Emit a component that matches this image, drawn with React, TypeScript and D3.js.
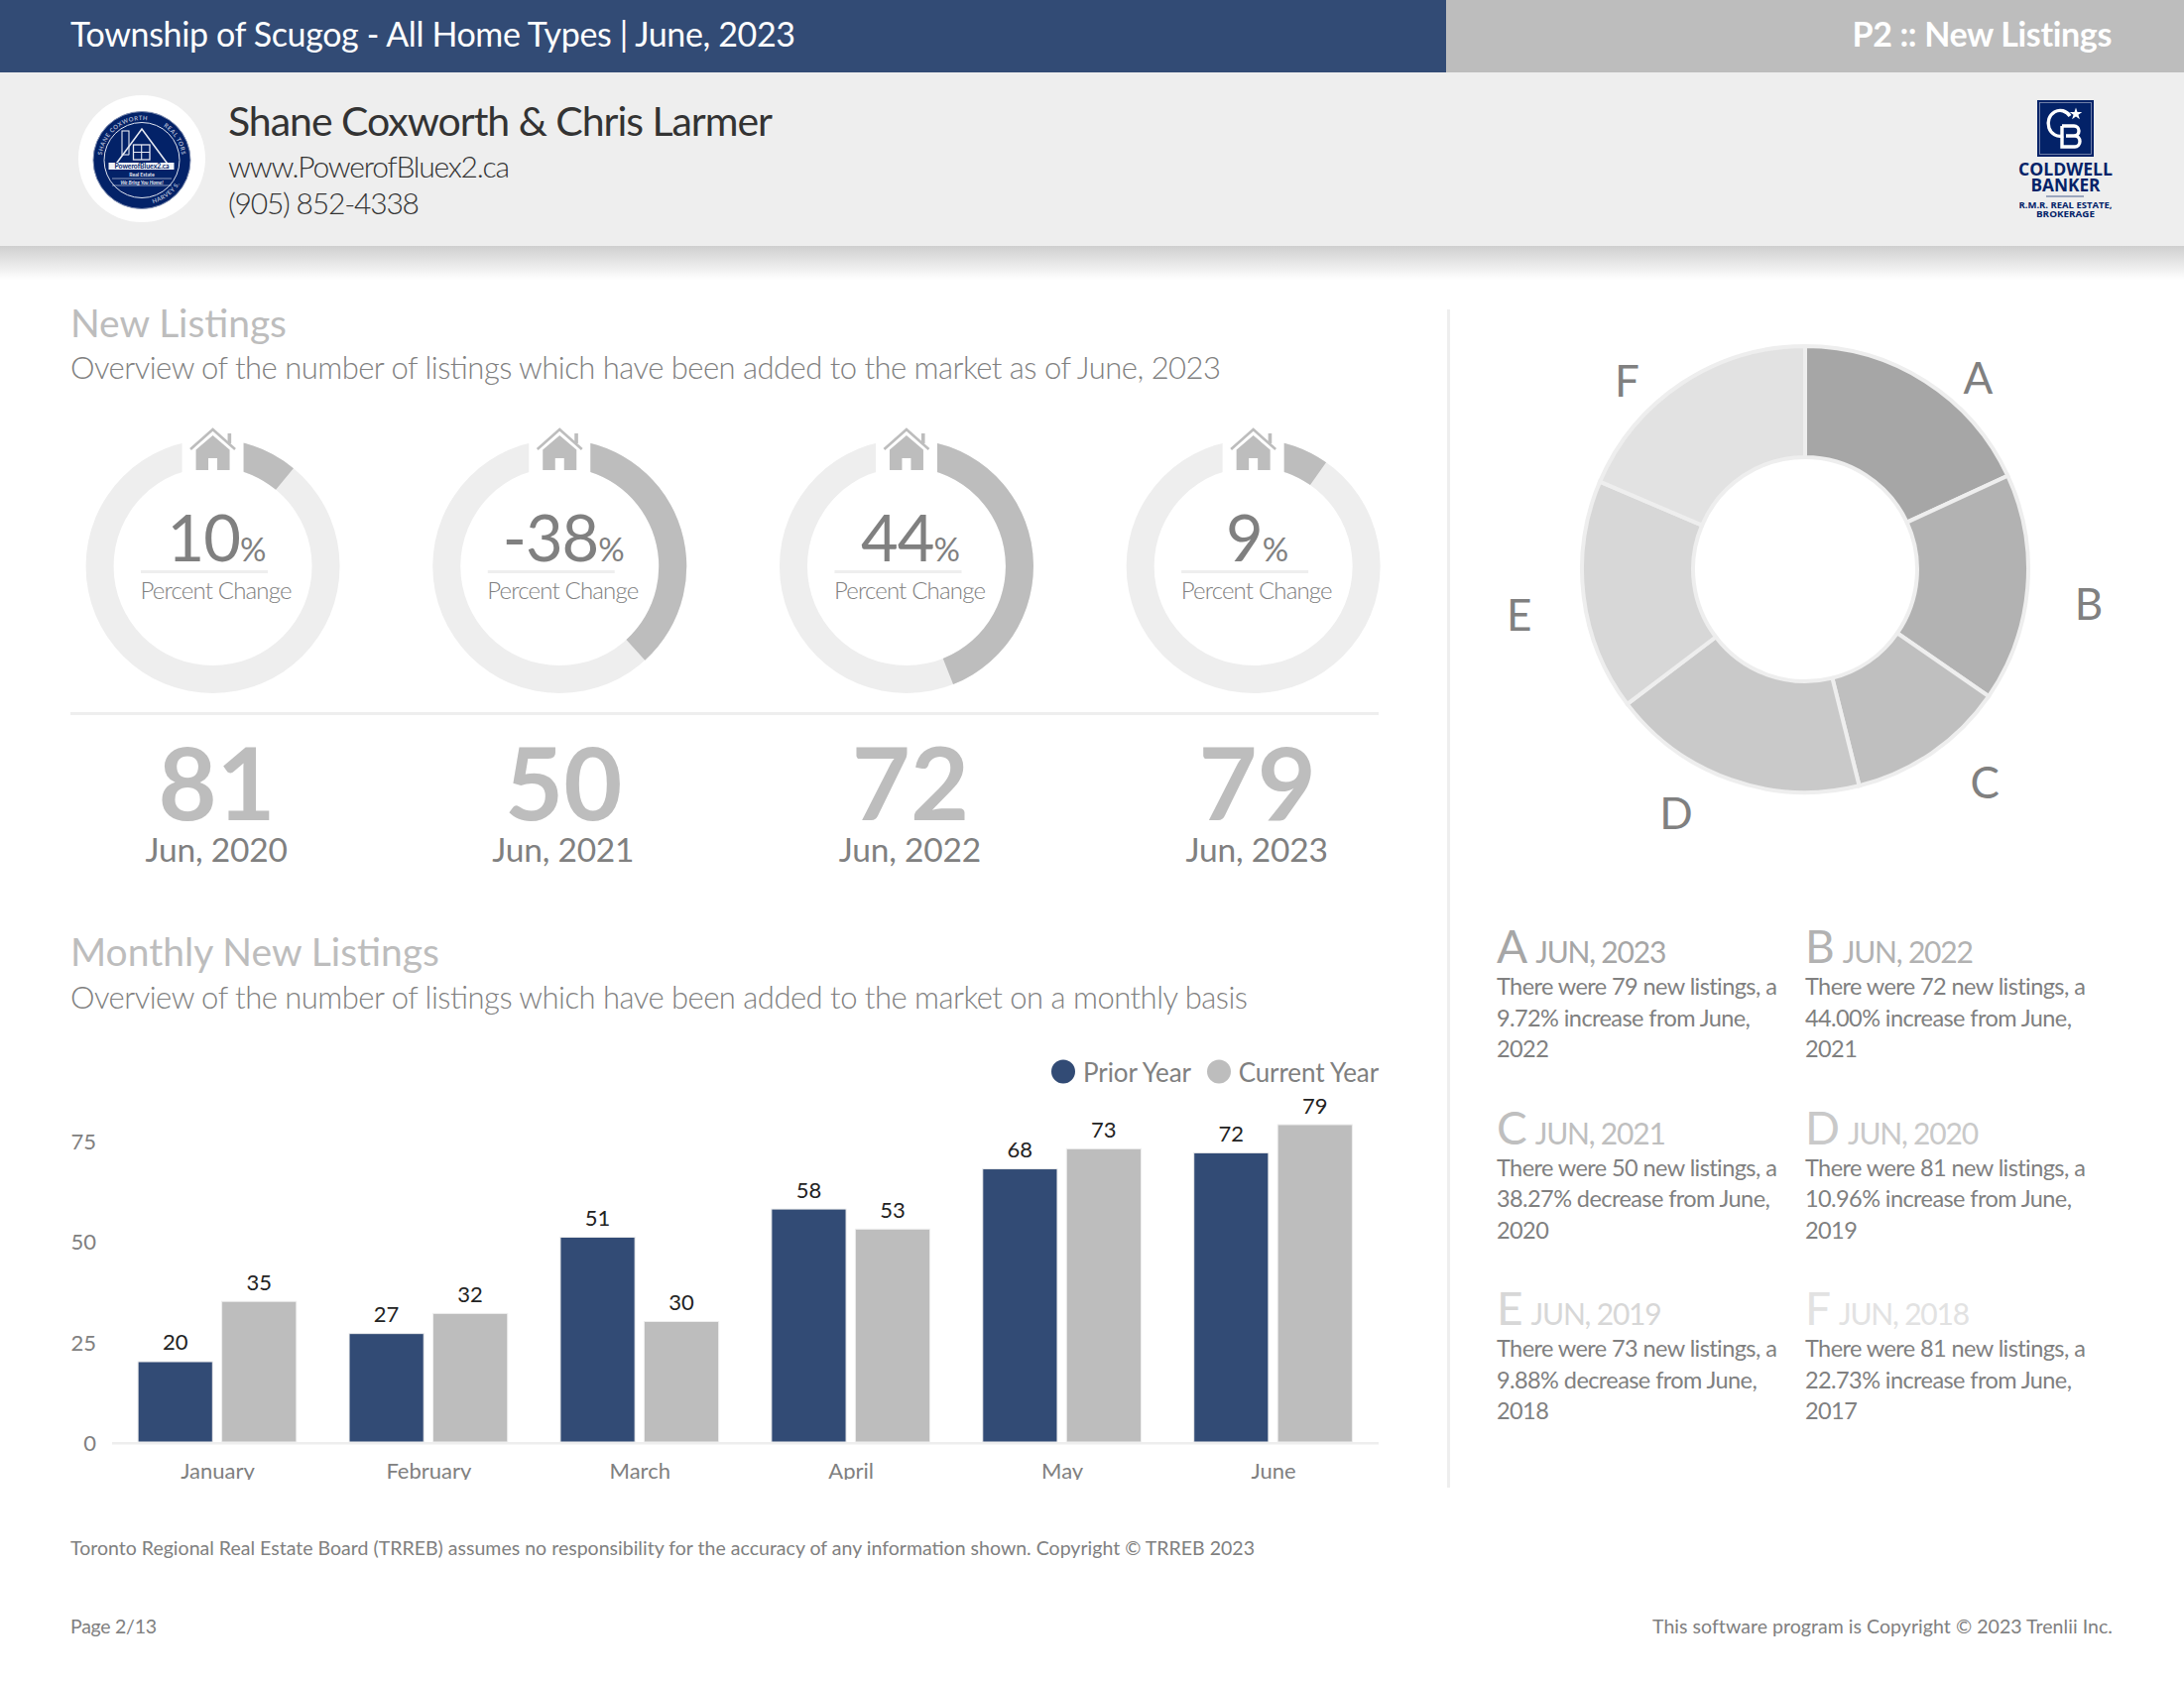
import React from "react";
import * as d3 from "d3";

const headerTitle = "Township of Scugog - All Home Types | June, 2023";
const headerPage = "P2 :: New Listings";
const agentName = "Shane Coxworth & Chris Larmer";
const agentSite = "www.PowerofBluex2.ca";
const agentPhone = "(905) 852-4338";

const gaugeLabels = ["10", "-38", "44", "9"];
const gaugeChange = [10.96, 38.27, 44.0, 9.72];
const gaugeTotals = [81, 50, 72, 79];
const gaugeDates = ["Jun, 2020", "Jun, 2021", "Jun, 2022", "Jun, 2023"];

const months = ["January", "February", "March", "April", "May", "June"];
const priorYear = [20, 27, 51, 58, 68, 72];
const currentYear = [35, 32, 30, 53, 73, 79];
const yTicks = [0, 25, 50, 75];

const pieLetters = ["A", "B", "C", "D", "E", "F"];
const pieValues = [79, 72, 50, 81, 73, 81];
const pieColors = ["#a6a6a6", "#b2b2b2", "#bfbfbf", "#c9c9c9", "#d7d7d7", "#e2e2e2"];
const pieLabelTurn = [9.5, 2, -5.5, 8.5, -2, -10];
const pieLabelRadius = [260, 288, 281, 278, 292, 261];
const pieDates = ["JUN, 2023", "JUN, 2022", "JUN, 2021", "JUN, 2020", "JUN, 2019", "JUN, 2018"];
const pieNotes = [
  ["There were 79 new listings, a", "9.72% increase from June,", "2022"],
  ["There were 72 new listings, a", "44.00% increase from June,", "2021"],
  ["There were 50 new listings, a", "38.27% decrease from June,", "2020"],
  ["There were 81 new listings, a", "10.96% increase from June,", "2019"],
  ["There were 73 new listings, a", "9.88% decrease from June,", "2018"],
  ["There were 81 new listings, a", "22.73% increase from June,", "2017"],
];

const NAVY = "#324b75";
const LOGO = "#032268";
const GREY = "#bdbdbd";
const TXT = "#808080";
const PALE = "#eeeeee";
const FONT = "Lato, sans-serif";

function Logo() {
  const cx = 143, cy = 161.5;
  return (
    <g>
      <circle cx={cx} cy={160} r={64} fill="#fff" />
      <circle cx={cx} cy={cy} r={49} fill={LOGO} stroke="#7f8db0" strokeWidth={1} />
      <circle cx={cx} cy={cy} r={38} fill="none" stroke="#dfe4f0" strokeWidth={1} />
      <defs>
        <path id="lgTop" d={`M ${cx - 40.5} ${cy} A 40.5 40.5 0 0 1 ${cx + 40.5} ${cy}`} />
        <path id="lgBot" d={`M ${cx - 45} ${cy} A 45 45 0 0 0 ${cx + 45} ${cy}`} />
      </defs>
      <g fontFamily={FONT} fill="#aeb8d2" fontWeight={700} letterSpacing={0.5}>
        <text fontSize={6}><textPath href="#lgTop" startOffset="4%">SHANE COXWORTH</textPath></text>
        <text fontSize={6}><textPath href="#lgTop" startOffset="68%">REAL TORS</textPath></text>
        <text fontSize={6}><textPath href="#lgBot" startOffset="58%">HARVEY S.</textPath></text>
      </g>
      <path d={`M ${cx - 28} 168 L ${cx} 130 L ${cx + 28} 168`} fill="none" stroke="#e6e9f2" strokeWidth={1.6} />
      <rect x={cx - 20} y={132} width={7} height={24} fill="none" stroke="#e6e9f2" strokeWidth={1.1} />
      <path d={`M ${cx - 13.5} 158 L ${cx} 136 L ${cx + 20} 166 L ${cx - 20} 166 Z`} fill={LOGO} />
      <rect x={134.5} y={146} width={16.5} height={15} fill="none" stroke="#e6e9f2" strokeWidth={1.3} />
      <path d={`M 142.7 146 V 161 M 134.5 153.5 H 151`} stroke="#e6e9f2" strokeWidth={1.1} />
      <rect x={109.5} y={164} width={66} height={7} fill="#f0f2f7" />
      <text x={cx} y={170} textAnchor="middle" fontFamily={FONT} fontSize={6.8} fontWeight={700} fill={LOGO}>PowerofBluex2.ca</text>
      <text x={cx} y={177.5} textAnchor="middle" fontFamily={FONT} fontSize={5.2} fontWeight={700} fill="#e6e9f2">Real Estate</text>
      <path d={`M 113 180 H 173 M 113 187 H 173`} stroke="#e6e9f2" strokeWidth={0.6} />
      <text x={cx} y={185.5} textAnchor="middle" fontFamily={FONT} fontSize={5} fontStyle="italic" fontWeight={700} fill="#e6e9f2">We Bring You Home!</text>
    </g>
  );
}

function CbLogo() {
  const star = d3.range(10).map((i) => {
    const r = i % 2 ? 2.6 : 6.6;
    const a = (i * Math.PI) / 5;
    return `${2093 + r * Math.sin(a)},${115 - r * Math.cos(a)}`;
  }).join(" ");
  return (
    <g>
      <rect x={2054} y={101} width={57} height={57} fill={LOGO} />
      <rect x={2056.5} y={103.5} width={52} height={52} fill="none" stroke="#8a97b8" strokeWidth={0.8} />
      <path d="M 2087 117 A 12 13 0 1 0 2080 137" fill="none" stroke="#fff" strokeWidth={3.4} />
      <path d="M 2079 127 H 2091 A 5 5 0 0 1 2091 137 H 2083 M 2083 137 H 2092 A 5 5.5 0 0 1 2092 148 H 2079 V 127" fill="none" stroke="#fff" strokeWidth={3.4} />
      <polygon points={star} fill="#fff" />
      <g fontFamily="'Open Sans', sans-serif" fontWeight={700} fill={LOGO} textAnchor="middle">
        <text x={2082.5} y={177} fontSize={17} textLength={95} lengthAdjust="spacingAndGlyphs">COLDWELL</text>
        <text x={2082.5} y={193} fontSize={17} textLength={70} lengthAdjust="spacingAndGlyphs">BANKER</text>
        <text x={2082.5} y={210} fontSize={9.5} textLength={94} lengthAdjust="spacingAndGlyphs">R.M.R. REAL ESTATE,</text>
        <text x={2082.5} y={218.5} fontSize={9.5} textLength={59} lengthAdjust="spacingAndGlyphs">BROKERAGE</text>
      </g>
      <rect x={2063} y={197.5} width={38} height={1} fill={LOGO} opacity={0.7} />
    </g>
  );
}

function Gauges() {
  const x = d3.scaleBand<number>().domain(d3.range(4)).range([39.7, 1438.5]);
  const cy = 571;
  const ring = d3.arc<any>().innerRadius(100).outerRadius(128);
  return (
    <g>
      {gaugeLabels.map((lab, i) => {
        const cx = (x(i) as number) + x.bandwidth() / 2;
        const tx = cx + 3.5;
        return (
          <g key={i}>
            <path transform={`translate(${cx},${cy})`} d={ring({ startAngle: 0, endAngle: 2 * Math.PI }) as string} fill={PALE} />
            <path transform={`translate(${cx},${cy})`} d={ring({ startAngle: 0, endAngle: (gaugeChange[i] / 100) * 2 * Math.PI }) as string} fill={GREY} />
            <rect x={cx - 31} y={cy - 135} width={62} height={44} fill="#fff" />
            <g transform={`translate(${cx},${cy})`}>
              <path d="M -22.5 -118 L 0 -138 L 22.5 -118" fill="none" stroke={GREY} strokeWidth={2.6} />
              <rect x={15} y={-134} width={3.6} height={10} fill={GREY} />
              <path d="M 0 -132 L 17 -117.5 V -97 H 4.5 V -109 H -4.5 V -97 H -17 V -117.5 Z" fill={GREY} />
            </g>
            <text x={tx} y={566} textAnchor="middle" fontFamily={FONT} fill={TXT} letterSpacing={-1}>
              <tspan fontSize={65} fontWeight={400}>{lab}</tspan>
              <tspan fontSize={33} fontWeight={400}>%</tspan>
            </text>
            <rect x={tx - 76} y={575} width={128} height={3} fill={PALE} />
            <text x={tx} y={604} textAnchor="middle" fontFamily={FONT} fontSize={24} fontWeight={300} fill={TXT} textLength={153}>Percent Change</text>
            <text x={tx + 0.5} y={827} textAnchor="middle" fontFamily={FONT} fontSize={102} fontWeight={700} fill={GREY}>{gaugeTotals[i]}</text>
            <text x={tx} y={869} textAnchor="middle" fontFamily={FONT} fontSize={33.5} fontWeight={400} fill={TXT} letterSpacing={-0.2}>{gaugeDates[i]}</text>
          </g>
        );
      })}
      <rect x={71} y={718} width={1319} height={3} fill={PALE} />
    </g>
  );
}

function Bars() {
  const x0 = d3.scaleBand<string>().domain(months).range([112.5, 1390]).paddingInner(0.25).paddingOuter(0.125);
  const x1 = d3.scaleBand<string>().domain(["prior", "current"]).range([0, x0.bandwidth()]).paddingInner(0.11);
  const y = d3.scaleLinear().domain([0, 79]).range([1454, 1134]);
  const series: [string, number[], string][] = [["prior", priorYear, NAVY], ["current", currentYear, GREY]];
  return (
    <g>
      <defs>
        <clipPath id="axisClip"><rect x={0} y={1465} width={1440} height={27} /></clipPath>
      </defs>
      {yTicks.map((t) => (
        <text key={t} x={97} y={y(t) + 9} textAnchor="end" fontFamily={FONT} fontSize={22} fill={TXT}>{t}</text>
      ))}
      <rect x={113} y={1454} width={1277} height={2.5} fill={PALE} />
      {months.map((m, i) => (
        <g key={m}>
          {series.map(([k, vals, col]) => {
            const bx = (x0(m) as number) + (x1(k) as number);
            return (
              <g key={k}>
                <rect x={bx} y={y(vals[i])} width={x1.bandwidth()} height={y(0) - y(vals[i])} fill={col} stroke={PALE} strokeWidth={1} />
                <text x={bx + x1.bandwidth() / 2} y={y(vals[i]) - 11.5} textAnchor="middle" fontFamily={FONT} fontSize={22} fill="#222">{vals[i]}</text>
              </g>
            );
          })}
          <text x={(x0(m) as number) + x0.bandwidth() / 2 + 0.5} y={1491} textAnchor="middle" fontFamily={FONT} fontSize={22} fill={TXT} clipPath="url(#axisClip)">{m}</text>
        </g>
      ))}
      <circle cx={1072} cy={1080.5} r={12} fill={NAVY} />
      <text x={1092} y={1090.5} fontFamily={FONT} fontSize={26} fill={TXT} letterSpacing={-0.1}>Prior Year</text>
      <circle cx={1229} cy={1080.5} r={12} fill={GREY} />
      <text x={1390} y={1090.5} textAnchor="end" fontFamily={FONT} fontSize={26} fill={TXT} letterSpacing={-0.1}>Current Year</text>
    </g>
  );
}

function Donut() {
  const cx = 1820, cy = 574;
  const slices = d3.pie<number>().sort(null)(pieValues);
  const arc = d3.arc<any>().innerRadius(113).outerRadius(225);
  return (
    <g>
      {slices.map((s, i) => (
        <path key={i} transform={`translate(${cx},${cy})`} d={arc(s) as string} fill={pieColors[i]} stroke={PALE} strokeWidth={4} />
      ))}
      {slices.map((s, i) => {
        const a = (s.startAngle + s.endAngle) / 2 + (pieLabelTurn[i] * Math.PI) / 180;
        return (
          <text key={i} x={cx + pieLabelRadius[i] * Math.sin(a)} y={cy - pieLabelRadius[i] * Math.cos(a) + 16} textAnchor="middle" fontFamily={FONT} fontSize={44} fill={TXT}>{pieLetters[i]}</text>
        );
      })}
    </g>
  );
}

function Notes() {
  const col = d3.scaleOrdinal<number, number>().domain([0, 1]).range([1509, 1820]);
  const row = d3.scaleLinear().domain([0, 2]).range([971, 1336]);
  return (
    <g fontFamily={FONT}>
      {pieLetters.map((l, i) => {
        const x = col(i % 2);
        const y = row(Math.floor(i / 2));
        return (
          <g key={l}>
            <text x={x} y={y} fill={pieColors[i]}>
              <tspan fontSize={46}>{l}</tspan>
              <tspan dx={8} fontSize={30} letterSpacing={-1.2}>{pieDates[i]}</tspan>
            </text>
            {pieNotes[i].map((t, j) => (
              <text key={j} x={x} y={y + 32 + j * 31.5} fontSize={23.5} fill={TXT} letterSpacing={-0.58}>{t}</text>
            ))}
          </g>
        );
      })}
    </g>
  );
}

export default function App() {
  return (
    <svg width={2202} height={1698} viewBox="0 0 2202 1698" style={{ position: "absolute", left: 0, top: 0, background: "#fff" }}>
      <defs>
        <linearGradient id="shadow" x1="0" y1="0" x2="0" y2="1">
          <stop offset="0" stopColor="#cfcfcf" />
          <stop offset="1" stopColor="#ffffff" />
        </linearGradient>
      </defs>
      <rect x={0} y={248} width={2202} height={34} fill="url(#shadow)" />
      <rect x={0} y={73} width={2202} height={175} fill={PALE} />
      <rect x={0} y={0} width={1458} height={73} fill={NAVY} />
      <rect x={1458} y={0} width={744} height={73} fill={GREY} />
      <text x={71} y={47} fontFamily={FONT} fontSize={34} fill="#fff" textLength={731}>{headerTitle}</text>
      <text x={2129} y={47} textAnchor="end" fontFamily={FONT} fontSize={34} fontWeight={700} fill="#fff" letterSpacing={-0.35}>{headerPage}</text>
      <Logo />
      <text x={230} y={137} fontFamily={FONT} fontSize={41} fill="#333" textLength={549}>{agentName}</text>
      <text x={230} y={179} fontFamily={FONT} fontSize={30} fontWeight={300} fill="#333" textLength={284}>{agentSite}</text>
      <text x={230} y={216} fontFamily={FONT} fontSize={30} fontWeight={300} fill="#333" textLength={193}>{agentPhone}</text>
      <CbLogo />

      <text x={71} y={340} fontFamily={FONT} fontSize={39} fill={GREY} textLength={218}>New Listings</text>
      <text x={71} y={382} fontFamily={FONT} fontSize={31} fontWeight={300} fill={TXT} textLength={1160}>Overview of the number of listings which have been added to the market as of June, 2023</text>
      <Gauges />
      <text x={71} y={974} fontFamily={FONT} fontSize={39} fill={GREY} textLength={372}>Monthly New Listings</text>
      <text x={71} y={1017} fontFamily={FONT} fontSize={31} fontWeight={300} fill={TXT} textLength={1187}>Overview of the number of listings which have been added to the market on a monthly basis</text>
      <Bars />
      <rect x={1459} y={312} width={3} height={1188} fill={PALE} />
      <Donut />
      <Notes />

      <text x={71} y={1568} fontFamily={FONT} fontSize={19.5} fill={TXT} textLength={1194}>Toronto Regional Real Estate Board (TRREB) assumes no responsibility for the accuracy of any information shown. Copyright © TRREB 2023</text>
      <text x={71} y={1647} fontFamily={FONT} fontSize={19.5} fill={TXT} textLength={87}>Page 2/13</text>
      <text x={2130} y={1647} textAnchor="end" fontFamily={FONT} fontSize={19.5} fill={TXT} letterSpacing={0.05}>This software program is Copyright © 2023 Trenlii Inc.</text>
    </svg>
  );
}
